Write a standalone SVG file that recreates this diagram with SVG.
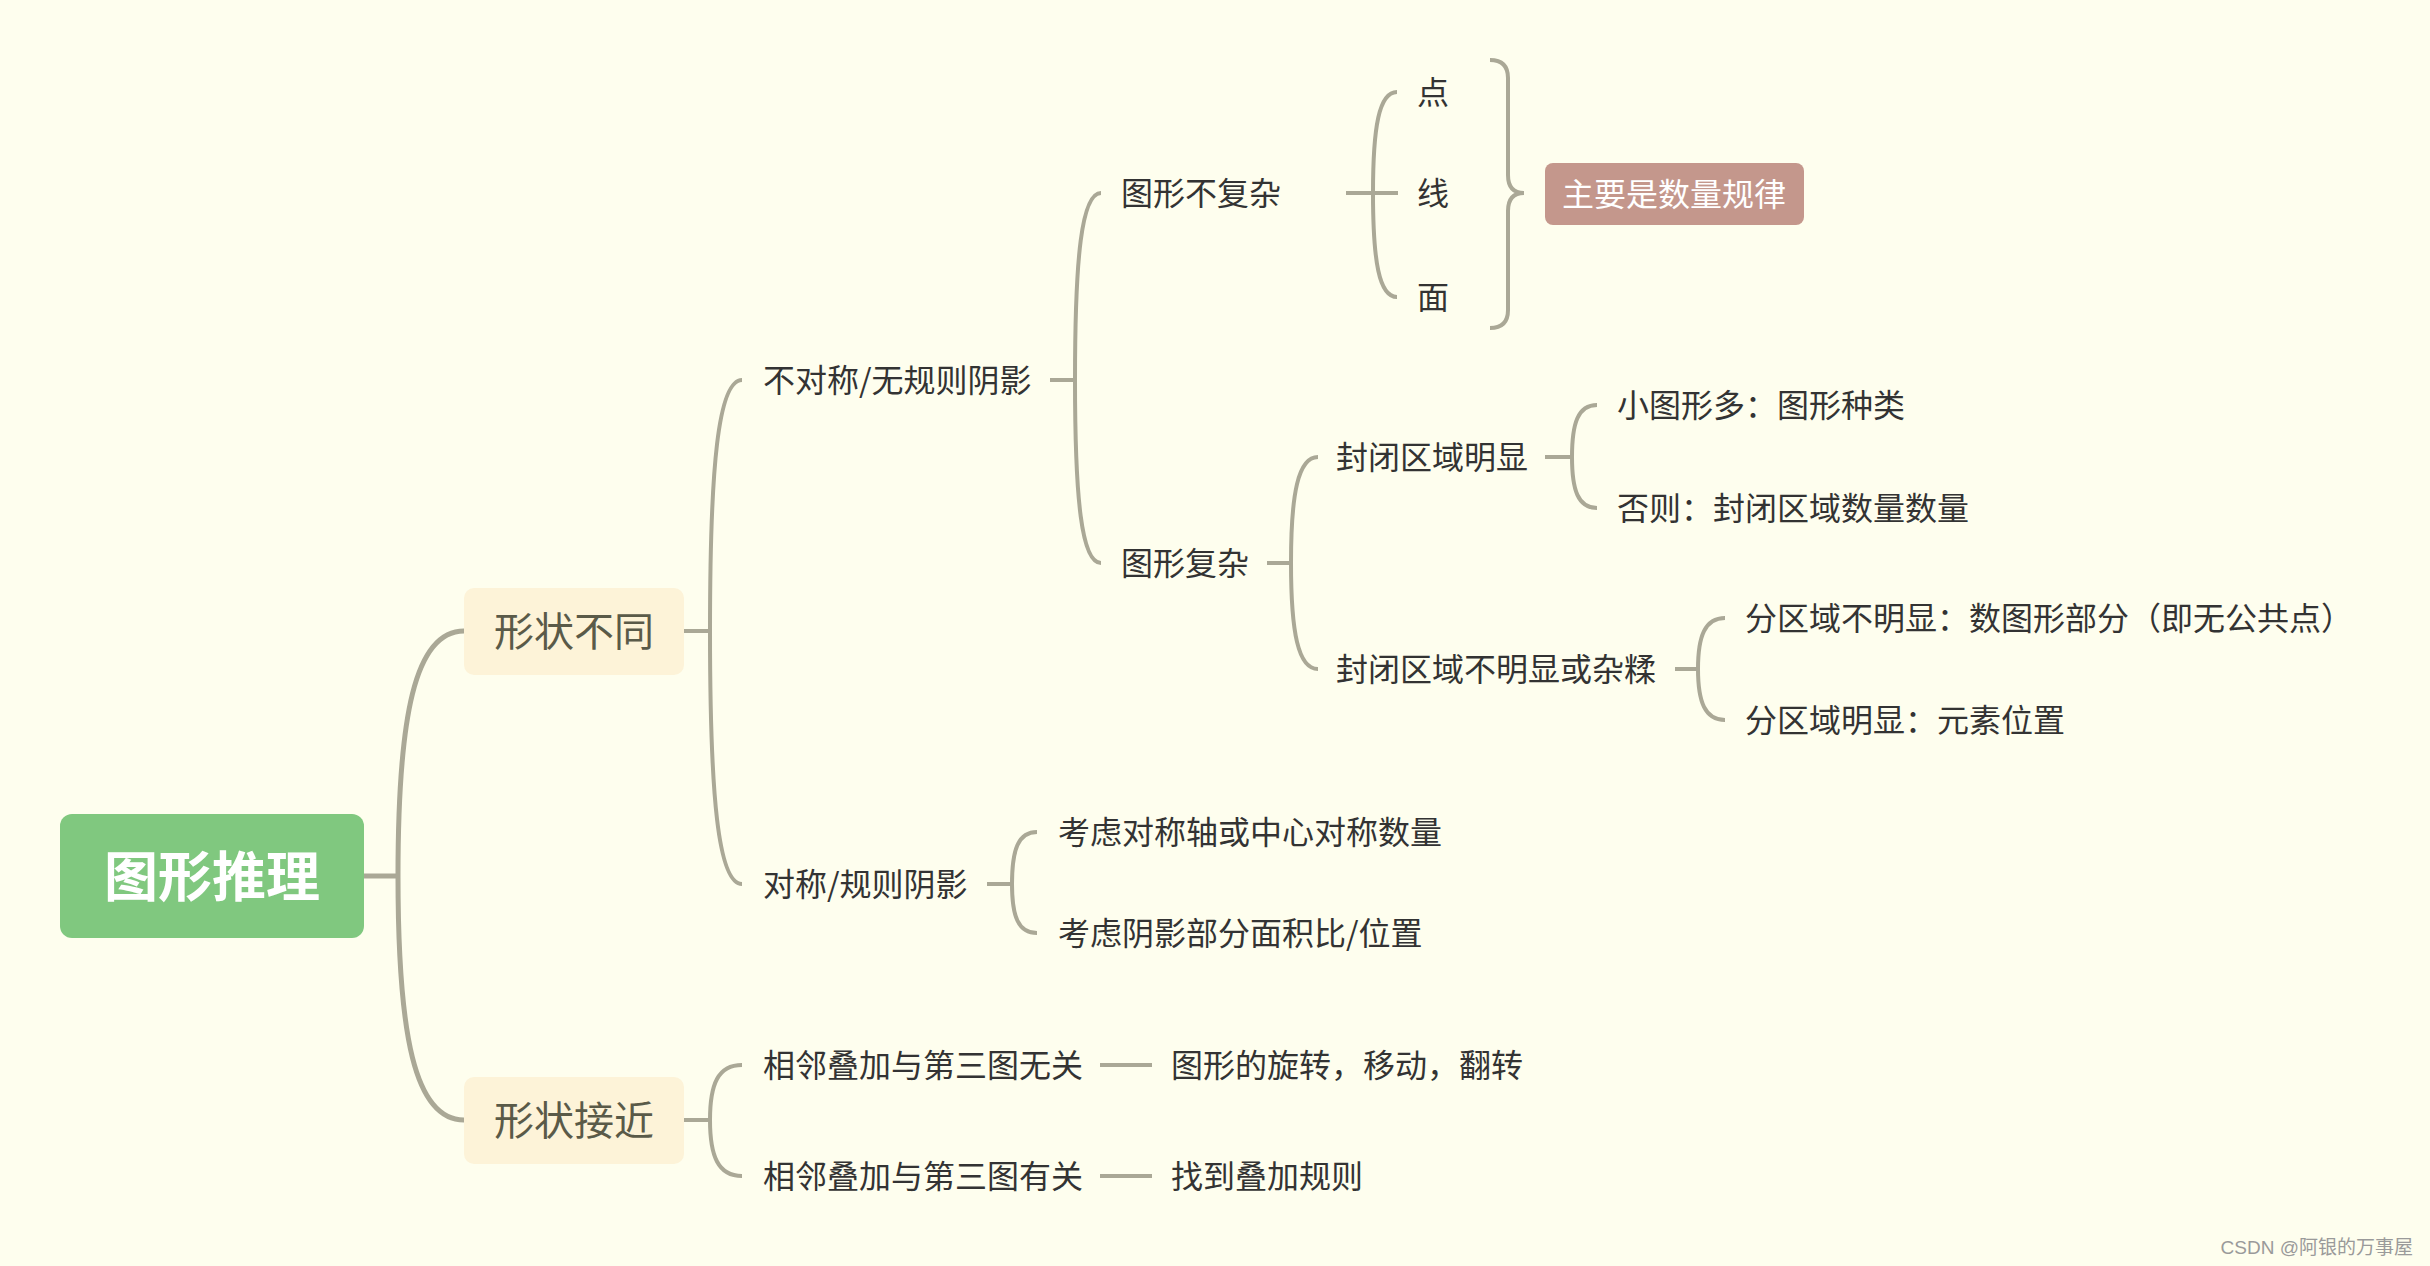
<svg xmlns="http://www.w3.org/2000/svg" width="2430" height="1266" viewBox="0 0 2430 1266">
<style>
.bg{fill:#fefeee}
.ln{fill:none;stroke:#aaa896;stroke-width:4;stroke-linecap:butt}
.ln5{stroke-width:5}
.t{font-family:"Noto Sans CJK SC","Noto Sans",sans-serif;font-size:32px;fill:#333333;dominant-baseline:central}
.t2{font-family:"Noto Sans CJK SC","Noto Sans",sans-serif;font-size:40px;fill:#5a5a48;dominant-baseline:central;text-anchor:middle}
.box2{fill:#fdf3d8}
</style>
<rect class="bg" x="0" y="0" width="2430" height="1266"/>
<g id="connectors">
<path class="ln ln5" d="M364 876 H398"/>
<path class="ln ln5" d="M398 876 C398 717 414.5 631 464 631"/>
<path class="ln ln5" d="M398 876 C398 1035 414.5 1120 464 1120"/>
<path class="ln" d="M684 631 H710"/>
<path class="ln" d="M710 631 C710 468 718 380 742 380"/>
<path class="ln" d="M710 631 C710 795 718 884 742 884"/>
<path class="ln" d="M684 1120 H710"/>
<path class="ln" d="M710 1120 C710 1084 718 1065 742 1065"/>
<path class="ln" d="M710 1120 C710 1156 718 1176 742 1176"/>
<path class="ln" d="M1050 380 H1075"/>
<path class="ln" d="M1075 380 C1075 258 1081.5 193 1101 193"/>
<path class="ln" d="M1075 380 C1075 499 1081.5 563 1101 563"/>
<path class="ln" d="M1346 193 H1398"/>
<path class="ln" d="M1373 193 C1373 127 1379 92 1397 92"/>
<path class="ln" d="M1373 193 C1373 261 1379 297 1397 297"/>
<path class="ln" d="M1490 60 Q1508 60 1508 78 V175 Q1508 193 1524 193 Q1508 193 1508 211 V310 Q1508 328 1490 328"/>
<path class="ln" d="M1267 563 H1291"/>
<path class="ln" d="M1291 563 C1291 494 1298 457 1318 457"/>
<path class="ln" d="M1291 563 C1291 632 1298 669 1318 669"/>
<path class="ln" d="M1545 457 H1572"/>
<path class="ln" d="M1572 457 C1572 423 1578 405 1597 405"/>
<path class="ln" d="M1572 457 C1572 490 1578 508 1597 508"/>
<path class="ln" d="M1675 669 H1698"/>
<path class="ln" d="M1698 669 C1698 636 1705 618 1725 618"/>
<path class="ln" d="M1698 669 C1698 702 1705 720 1725 720"/>
<path class="ln" d="M987 884 H1012"/>
<path class="ln" d="M1012 884 C1012 850 1018 832 1037 832"/>
<path class="ln" d="M1012 884 C1012 916 1018 933 1037 933"/>
<path class="ln" d="M1100 1065 H1152"/>
<path class="ln" d="M1100 1176 H1152"/>
</g>
<g id="root">
<rect x="60" y="814" width="304" height="124" rx="12" fill="#80c87f"/>
<text x="212" y="873" font-family="'Noto Sans CJK SC',sans-serif" font-size="54" font-weight="bold" fill="#ffffff" text-anchor="middle" dominant-baseline="central">图形推理</text>
</g>
<g id="n-xzbt">
<rect class="box2" x="464" y="588" width="220" height="87" rx="10"/>
<text class="t2" x="574" y="629">形状不同</text>
</g>
<g id="n-xzjj">
<rect class="box2" x="464" y="1077" width="220" height="87" rx="10"/>
<text class="t2" x="574" y="1118">形状接近</text>
</g>
<g id="n-bdc"><text class="t" x="763" y="378">不对称/无规则阴影</text></g>
<g id="n-dc"><text class="t" x="763" y="882">对称/规则阴影</text></g>
<g id="n-xlwg"><text class="t" x="763" y="1063">相邻叠加与第三图无关</text></g>
<g id="n-xlyg"><text class="t" x="763" y="1174">相邻叠加与第三图有关</text></g>
<g id="n-bfz"><text class="t" x="1121" y="191">图形不复杂</text></g>
<g id="n-fz"><text class="t" x="1121" y="561">图形复杂</text></g>
<g id="n-dian"><text class="t" x="1417" y="90">点</text></g>
<g id="n-xian"><text class="t" x="1417" y="191">线</text></g>
<g id="n-mian"><text class="t" x="1417" y="295">面</text></g>
<g id="n-summary">
<rect x="1545" y="163" width="259" height="62" rx="8" fill="#c4978c"/>
<text class="t" x="1674" y="192" style="fill:#ffffff" text-anchor="middle">主要是数量规律</text>
</g>
<g id="n-fbmx"><text class="t" x="1336" y="455">封闭区域明显</text></g>
<g id="n-fbbmx"><text class="t" x="1336" y="667">封闭区域不明显或杂糅</text></g>
<g id="n-xtxd"><text class="t" x="1617" y="403">小图形多：图形种类</text></g>
<g id="n-fz2"><text class="t" x="1617" y="506">否则：封闭区域数量数量</text></g>
<g id="n-fqbmx"><text class="t" x="1745" y="616">分区域不明显：数图形部分（即无公共点）</text></g>
<g id="n-fqmx"><text class="t" x="1745" y="718">分区域明显：元素位置</text></g>
<g id="n-kldc"><text class="t" x="1058" y="830">考虑对称轴或中心对称数量</text></g>
<g id="n-klyy"><text class="t" x="1058" y="931">考虑阴影部分面积比/位置</text></g>
<g id="n-xz"><text class="t" x="1171" y="1063">图形的旋转，移动，翻转</text></g>
<g id="n-zd"><text class="t" x="1171" y="1174">找到叠加规则</text></g>
<text x="2413" y="1247" font-family="'Liberation Sans','Noto Sans CJK SC',sans-serif" font-size="19" fill="#9a9a9a" text-anchor="end" dominant-baseline="central">CSDN @阿银的万事屋</text>
</svg>
